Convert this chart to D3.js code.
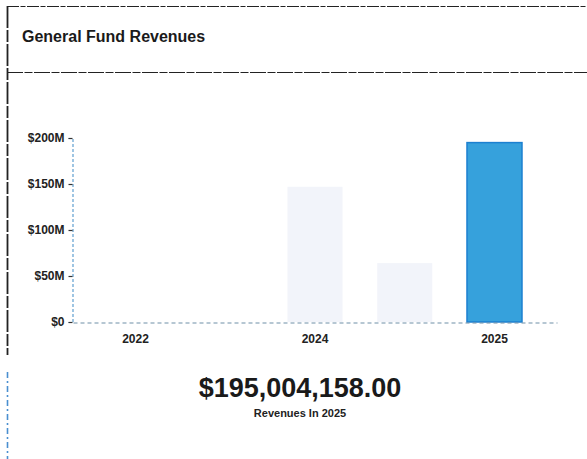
<!DOCTYPE html>
<html>
<head>
<meta charset="utf-8">
<script src="https://cdn.jsdelivr.net/npm/d3@7"></script>
<style>
  html, body { margin: 0; padding: 0; background: #fff; }
  svg { display: block; font-family: "Liberation Sans", Arial, sans-serif; }
</style>
</head>
<body>
<svg id="chart" width="587" height="459"></svg>
<script>
// Fiscal periods on the x axis (only some carry a printed label)
const periods = ["p2022", "p2023", "p2024", "p2024b", "p2025"];
const periodLabels = ["2022", "", "2024", "", "2025"];
// General fund revenue per period, in dollars
const revenues = [0, 0, 147000000, 64000000, 195004158];
// Y axis ticks
const yTicks = [0, 50000000, 100000000, 150000000, 200000000];
const yTickLabels = ["$0", "$50M", "$100M", "$150M", "$200M"];

const title = "General Fund Revenues";
const highlightIndex = periods.length - 1;
const totalText = d3.format("$,.2f")(revenues[highlightIndex]);
const subText = "Revenues In " + periodLabels[highlightIndex];

const svg = d3.select("#chart");

// Card frame: top edge, header divider, left edge
const frame = svg.append("g").attr("stroke", "#222").attr("fill", "none");
frame.append("line").attr("x1", 7).attr("x2", 587).attr("y1", 6.5).attr("y2", 6.5)
  .attr("stroke-width", 1.1).attr("stroke-dasharray", "12 1.5 5 1.5");
frame.append("line").attr("x1", 7).attr("x2", 587).attr("y1", 72.5).attr("y2", 72.5)
  .attr("stroke-width", 1.1).attr("stroke-dasharray", "16 1.5 8 1.5");
frame.append("line").attr("x1", 7.5).attr("x2", 7.5).attr("y1", 6).attr("y2", 355)
  .attr("stroke-width", 1.8).attr("stroke-dasharray", "22 2 12 2");
frame.append("line").attr("x1", 7.5).attr("x2", 7.5).attr("y1", 372).attr("y2", 459)
  .attr("stroke", "#4a8fd0").attr("stroke-width", 1.6).attr("stroke-dasharray", "6 3 2 3");

svg.append("text")
  .attr("x", 22).attr("y", 42)
  .attr("font-size", 16).attr("font-weight", "bold").attr("fill", "#1a1a1a")
  .text(title);

// Scales
const x = d3.scaleBand().domain(periods).range([73, 557])
  .paddingInner(0.387).paddingOuter(0.39);
const y = d3.scaleLinear().domain([0, 200000000]).range([322, 138]);

// Bars
svg.append("g").selectAll("rect")
  .data(revenues)
  .join("rect")
  .attr("x", (d, i) => x(periods[i]))
  .attr("width", x.bandwidth())
  .attr("y", d => y(d))
  .attr("height", d => y(0) - y(d))
  .attr("fill", (d, i) => i === highlightIndex ? "#36a1dc" : "#f2f4fa")
  .attr("stroke", (d, i) => i === highlightIndex ? "#1c80d0" : "none")
  .attr("stroke-width", 1.5);

// Y axis
const yAxis = d3.axisLeft(y).tickValues(yTicks)
  .tickFormat((d, i) => yTickLabels[i]).tickSize(4).tickPadding(4);
const gy = svg.append("g").attr("transform", "translate(72.5,0)").call(yAxis);
gy.select(".domain").attr("stroke", "#5f9fd0").attr("stroke-width", 1.2)
  .attr("stroke-dasharray", "3 2");
gy.selectAll(".tick line").attr("stroke", "#333").attr("stroke-width", 1.2);
gy.selectAll(".tick text").attr("font-size", 12).attr("font-weight", "bold")
  .attr("fill", "#222").attr("font-family", "Liberation Sans, Arial, sans-serif");

// X axis
const xAxis = d3.axisBottom(x).tickFormat((d, i) => periodLabels[i])
  .tickSize(0).tickPadding(12);
const gx = svg.append("g").attr("transform", "translate(0,322.5)").call(xAxis);
gx.select(".domain").attr("stroke", "#6f8fa8").attr("stroke-width", 1.2)
  .attr("stroke-dasharray", "4 3");
gx.selectAll(".tick text").attr("font-size", 12).attr("font-weight", "bold")
  .attr("fill", "#222").attr("font-family", "Liberation Sans, Arial, sans-serif");

// Headline figure for the latest period
svg.append("text")
  .attr("x", 300).attr("y", 397).attr("text-anchor", "middle")
  .attr("font-size", 27).attr("font-weight", "bold").attr("fill", "#1a1a1a")
  .text(totalText);
svg.append("text")
  .attr("x", 300).attr("y", 417).attr("text-anchor", "middle")
  .attr("font-size", 11).attr("font-weight", "bold").attr("fill", "#222")
  .text(subText);
</script>
</body>
</html>
